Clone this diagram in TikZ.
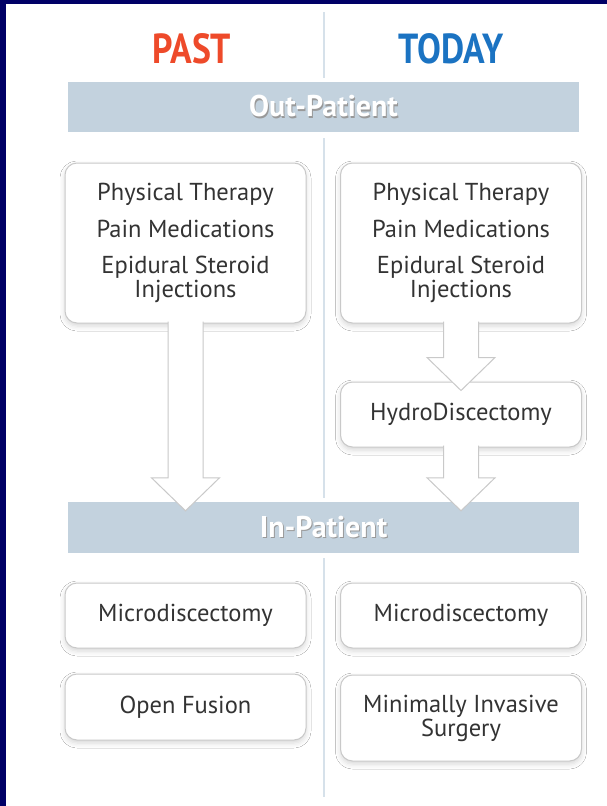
\documentclass[tikz,border=0pt]{standalone}
\usepackage{fontspec}
\setmainfont{PT Sans}
\usetikzlibrary{calc,shadows.blur}

\definecolor{bordeazul}{HTML}{000066}
\definecolor{rojopasado}{HTML}{EE4A2A}
\definecolor{azulhoy}{HTML}{1B73C2}
\definecolor{grisbarra}{HTML}{C3D2DE}
\definecolor{grislinea}{HTML}{D6E1EA}
\definecolor{grisborde}{HTML}{C9C9C9}
\definecolor{gristexto}{HTML}{333333}

\tikzset{
  titulo/.style={anchor=base, inner sep=0pt, font=\bfseries\fontsize{42}{42}\selectfont},
  barra/.style={fill=grisbarra, minimum width=511pt, inner sep=0pt},
  textobarra/.style={anchor=base, inner sep=0pt, text=white, font=\bfseries\fontsize{30}{30}\selectfont},
  caja/.style={draw=grisborde, line width=1pt, fill=white, rounded corners=12pt,
    minimum width=241pt, align=center, text=gristexto, font=\fontsize{24.5}{24}\selectfont,
    blur shadow={shadow xshift=0pt, shadow yshift=-3pt, shadow blur radius=5pt, shadow opacity=16}},
  bloque/.style={draw=grisborde, fill=white, line width=1pt, line join=miter},
  divisor/.style={draw=grislinea, line width=2pt}
}

% flecha de bloque desde la caja #1 hasta el nodo #2
\newcommand{\flecha}[2]{%
  \draw[bloque] let \p1=(#1.south), \p2=(#1.south |- #2.north) in
    (\x1-17.5pt,\y1+2pt) -- (\x1-17.5pt,\y2+24pt) -- (\x1-34pt,\y2+24pt)
    -- (\x1,\y2-9pt) -- (\x1+34pt,\y2+24pt) -- (\x1+17.5pt,\y2+24pt)
    -- (\x1+17.5pt,\y1+2pt);}

\begin{document}
\begin{tikzpicture}[x=1pt,y=-1pt]
        % Paso 1: Fondo con el borde azul
        \useasboundingbox (0,0) rectangle (607,806);
        \fill[bordeazul] (0,0) rectangle (607,806);
        \fill[white] (6,4) rectangle (607,806);

        % Paso 2: Barras de sección
        \node[barra, minimum height=50pt] (outbar) at (323.5,107) {};
        \node[barra, minimum height=51pt] (inbar) at (323.5,527.5) {};
        \node[textobarra, text=black!40] at (324.5,118) {Out-Patient}; % sombra
        \node[textobarra] (outtxt) at (323.5,116.5) {Out-Patient};
        \node[textobarra, text=black!40] at (324.5,538.5) {In-Patient};   % sombra
        \node[textobarra] (intxt) at (323.5,537) {In-Patient};

        % Paso 3: Línea divisoria entre columnas
        \draw[divisor] (outbar.north |- 0,12) -- ($(outbar.north)+(0,-4)$);
        \draw[divisor] ($(outbar.south)+(0,6)$) -- ($(inbar.north)+(0,-4)$);
        \draw[divisor] ($(inbar.south)+(0,5)$) -- (inbar.south |- 0,797);

        % Paso 4: Títulos de las columnas
        \node[titulo, text=rojopasado] (past) at (192,63) {\scalebox{0.85}[1]{PAST}};
        \node[titulo, text=azulhoy] (today) at (451,63) {\scalebox{0.85}[1]{TODAY}};

        % Paso 5: Cajas de la columna PAST
        \node[caja, minimum height=160pt] (ptL) at (185.5,243)
          {Physical Therapy\\[12.5pt]Pain Medications\\[12.5pt]Epidural Steroid\\Injections};
        \node[caja, minimum height=65pt] (microL) at (185.5,615.5) {Microdiscectomy};
        \node[caja, minimum height=66pt] (fusion) at (185.5,707) {Open Fusion};

        % Paso 6: Cajas de la columna TODAY
        \node[caja, minimum height=160pt] (ptR) at (461,243)
          {Physical Therapy\\[12.5pt]Pain Medications\\[12.5pt]Epidural Steroid\\Injections};
        \node[caja, minimum height=65pt] (hydro) at (461,414.5) {HydroDiscectomy};
        \node[caja, minimum height=65pt] (microR) at (461,615.5) {Microdiscectomy};
        \node[caja, minimum height=86pt] (mis) at (461,718) {Minimally Invasive\\Surgery};

        % Paso 7: Flechas de bloque
        \flecha{ptL}{inbar}
        \flecha{ptR}{hydro}
        \flecha{hydro}{inbar}
\end{tikzpicture}
\end{document}
